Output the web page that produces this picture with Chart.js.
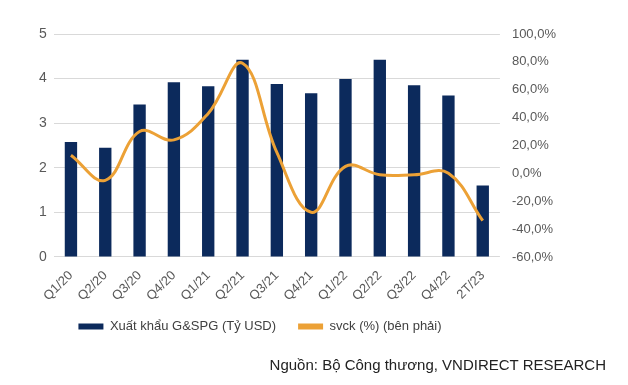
<!DOCTYPE html>
<html>
<head>
<meta charset="utf-8">
<script src="https://cdn.jsdelivr.net/npm/chart.js@4"></script>
<style>
  html, body { margin: 0; padding: 0; background: #fff; }
  #wrap { position: relative; width: 628px; height: 385px; }
  #source {
    position: absolute; right: 22px; top: 356px;
    font: 15px "Liberation Sans", Arial, sans-serif; color: #222;
  }
</style>
</head>
<body>
<div id="wrap">
  <canvas id="chart" width="628" height="385"></canvas>
  <div id="source">Nguồn: Bộ Công thương, VNDIRECT RESEARCH</div>
</div>
<script>
// quarters on the x axis
const quarters = ['Q1/20', 'Q2/20', 'Q3/20', 'Q4/20', 'Q1/21', 'Q2/21', 'Q3/21',
  'Q4/21', 'Q1/22', 'Q2/22', 'Q3/22', 'Q4/22', '2T/23'];

// exports, bn USD (left axis)
const exportValues = [2.58, 2.45, 3.42, 3.92, 3.83, 4.42, 3.88, 3.67, 3.99, 4.42, 3.85, 3.62, 1.6];

// yoy growth, % (right axis)
const yoyValues = [13, -5, 30, 24, 43, 79, 15, -28, 5, -1, -1, 0, -34];

const BAR_COLOR = '#0c2a5c';
const LINE_COLOR = '#eca136';
const TICK_COLOR = '#595959';

// nudge the legend left and up, like the original
const shiftLegend = {
  id: 'shiftLegend',
  afterLayout(chart) {
    const l = chart.legend;
    l.left -= 40;
    l.right -= 40;
    l.top -= 9;
    l.bottom -= 9;
  }
};

new Chart(document.getElementById('chart'), {
  type: 'bar',
  data: {
    labels: quarters,
    datasets: [
      {
        type: 'bar',
        label: 'Xuất khẩu G&SPG (Tỷ USD)',
        data: exportValues,
        backgroundColor: BAR_COLOR,
        barPercentage: 0.36,
        categoryPercentage: 1,
        yAxisID: 'y',
        order: 2,
      },
      {
        type: 'line',
        label: 'svck (%) (bên phải)',
        data: yoyValues,
        borderColor: LINE_COLOR,
        backgroundColor: LINE_COLOR,
        borderWidth: 3,
        pointRadius: 0,
        tension: 0.4,
        yAxisID: 'y1',
        order: 1,
      },
    ],
  },
  options: {
    responsive: false,
    animation: false,
    layout: { padding: { top: 34, left: 32, right: 60, bottom: 33 } },
    plugins: {
      tooltip: { enabled: false },
      legend: {
        position: 'bottom',
        labels: {
          boxWidth: 25,
          boxHeight: 6,
          padding: 22,
          color: '#404040',
          font: { family: 'Liberation Sans', size: 13 },
          sort: (a, b) => a.datasetIndex - b.datasetIndex,
          generateLabels(chart) {
            const items = Chart.defaults.plugins.legend.labels.generateLabels(chart);
            items.forEach(it => { it.lineWidth = 0; });
            return items;
          },
        },
      },
    },
    scales: {
      x: {
        grid: { display: false },
        border: { display: false },
        ticks: {
          color: TICK_COLOR,
          minRotation: 45,
          maxRotation: 45,
          padding: 3,
          font: { family: 'Liberation Sans', size: 13 },
        },
      },
      y: {
        position: 'left',
        min: 0,
        max: 5,
        ticks: {
          stepSize: 1,
          color: TICK_COLOR,
          padding: 7,
          font: { family: 'Liberation Sans', size: 14 },
        },
        grid: { color: '#d9d9d9', lineWidth: 1, drawTicks: false },
        border: { display: false },
      },
      y1: {
        position: 'right',
        min: -60,
        max: 100,
        ticks: {
          stepSize: 20,
          color: TICK_COLOR,
          padding: 12,
          font: { family: 'Liberation Sans', size: 13 },
          callback: v => v.toFixed(1).replace('.', ',') + '%',
        },
        grid: { display: false, drawTicks: false },
        border: { display: false },
      },
    },
  },
  plugins: [shiftLegend],
});
</script>
</body>
</html>
